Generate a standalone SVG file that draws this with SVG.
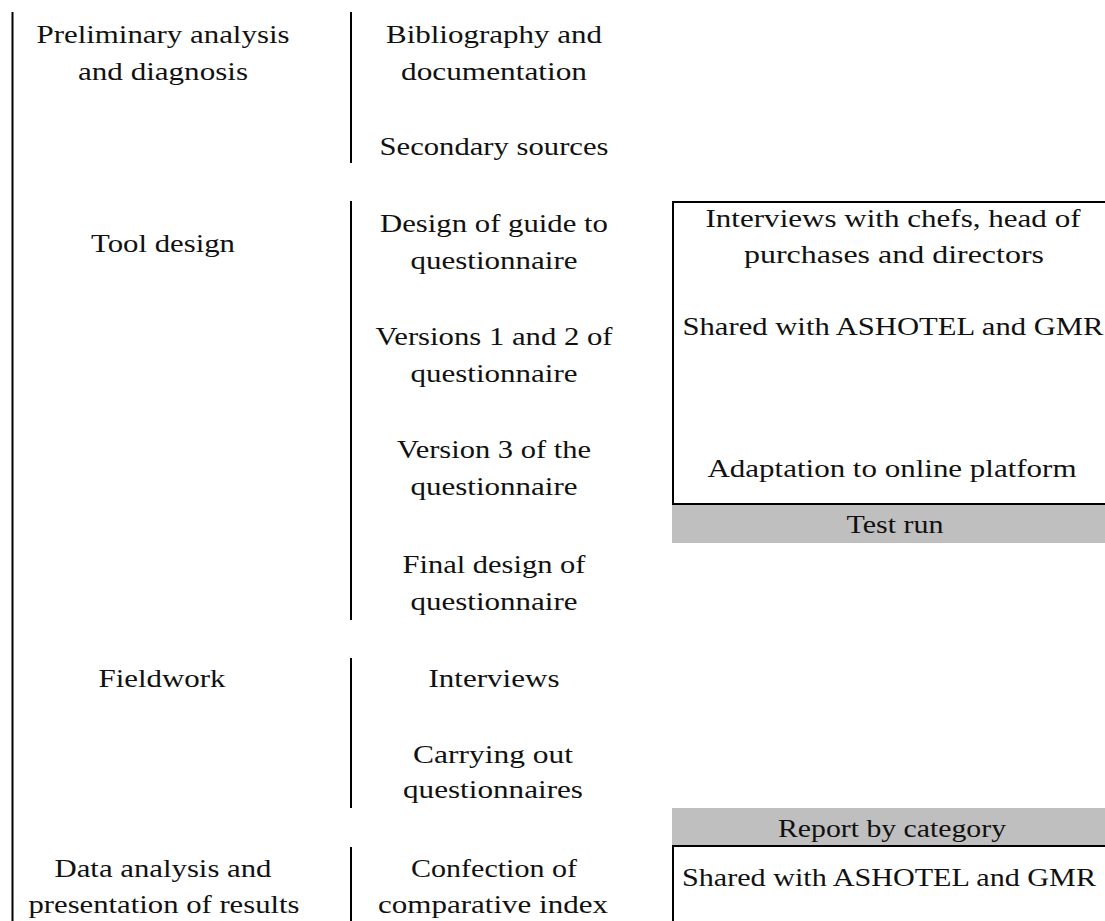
<svg xmlns="http://www.w3.org/2000/svg" width="1105" height="921" viewBox="0 0 1105 921">
<style>
text{font-family:"Liberation Serif","Times New Roman",serif;font-size:26px;fill:#111;text-anchor:middle}
.sep{stroke:#000;stroke-width:2;fill:none}
.box{fill:#fff;stroke:#000;stroke-width:2}
.bar{fill:#BFBFBF;stroke:none}
</style>
<rect x="0" y="0" width="1105" height="921" fill="#fff"/>
<g id="connectors">
<line class="sep" x1="12.5" y1="12" x2="12.5" y2="921"/>
<line class="sep" x1="351" y1="12" x2="351" y2="163"/>
<line class="sep" x1="351" y1="201" x2="351" y2="620"/>
<line class="sep" x1="351" y1="658" x2="351" y2="808"/>
<line class="sep" x1="351" y1="847" x2="351" y2="921"/>
</g>
<g id="phase-preliminary">
<text x="163" y="43" textLength="253" lengthAdjust="spacingAndGlyphs">Preliminary analysis</text>
<text x="163" y="80" textLength="170" lengthAdjust="spacingAndGlyphs">and diagnosis</text>
</g>
<g id="phase-tool">
<text x="163" y="252" textLength="144" lengthAdjust="spacingAndGlyphs">Tool design</text>
</g>
<g id="phase-fieldwork">
<text x="162" y="687" textLength="127" lengthAdjust="spacingAndGlyphs">Fieldwork</text>
</g>
<g id="phase-analysis">
<text x="163" y="877" textLength="217" lengthAdjust="spacingAndGlyphs">Data analysis and</text>
<text x="164" y="913" textLength="271" lengthAdjust="spacingAndGlyphs">presentation of results</text>
</g>
<g id="task-bibliography">
<text x="494" y="43" textLength="216" lengthAdjust="spacingAndGlyphs">Bibliography and</text>
<text x="494" y="80" textLength="186" lengthAdjust="spacingAndGlyphs">documentation</text>
</g>
<g id="task-secondary">
<text x="494" y="155" textLength="229" lengthAdjust="spacingAndGlyphs">Secondary sources</text>
</g>
<g id="task-design-guide">
<text x="494" y="232" textLength="228" lengthAdjust="spacingAndGlyphs">Design of guide to</text>
<text x="494" y="269" textLength="167" lengthAdjust="spacingAndGlyphs">questionnaire</text>
</g>
<g id="task-versions12">
<text x="494" y="345" textLength="237" lengthAdjust="spacingAndGlyphs">Versions 1 and 2 of</text>
<text x="494" y="382" textLength="167" lengthAdjust="spacingAndGlyphs">questionnaire</text>
</g>
<g id="task-version3">
<text x="494" y="458" textLength="194" lengthAdjust="spacingAndGlyphs">Version 3 of the</text>
<text x="494" y="495" textLength="167" lengthAdjust="spacingAndGlyphs">questionnaire</text>
</g>
<g id="task-final">
<text x="494" y="573" textLength="183" lengthAdjust="spacingAndGlyphs">Final design of</text>
<text x="494" y="610" textLength="167" lengthAdjust="spacingAndGlyphs">questionnaire</text>
</g>
<g id="task-interviews">
<text x="494" y="687" textLength="131" lengthAdjust="spacingAndGlyphs">Interviews</text>
</g>
<g id="task-carrying">
<text x="493" y="763" textLength="160" lengthAdjust="spacingAndGlyphs">Carrying out</text>
<text x="493" y="798" textLength="180" lengthAdjust="spacingAndGlyphs">questionnaires</text>
</g>
<g id="task-confection">
<text x="494" y="877" textLength="166" lengthAdjust="spacingAndGlyphs">Confection of</text>
<text x="493" y="913" textLength="230" lengthAdjust="spacingAndGlyphs">comparative index</text>
</g>
<g id="box-tool">
<rect class="box" x="673" y="202" width="500" height="302"/>
<text x="893" y="227" textLength="375" lengthAdjust="spacingAndGlyphs">Interviews with chefs, head of</text>
<text x="894" y="263" textLength="300" lengthAdjust="spacingAndGlyphs">purchases and directors</text>
<text x="893" y="335" textLength="421" lengthAdjust="spacingAndGlyphs">Shared with ASHOTEL and GMR</text>
<text x="892" y="477" textLength="369" lengthAdjust="spacingAndGlyphs">Adaptation to online platform</text>
</g>
<g id="bar-test-run">
<rect class="bar" x="672" y="505" width="440" height="38"/>
<text x="895" y="533" textLength="97" lengthAdjust="spacingAndGlyphs">Test run</text>
</g>
<g id="bar-report">
<rect class="bar" x="672" y="808" width="440" height="37"/>
<text x="892" y="837" textLength="228" lengthAdjust="spacingAndGlyphs">Report by category</text>
</g>
<g id="box-analysis">
<rect class="box" x="673" y="846" width="500" height="100"/>
<text x="889" y="886" textLength="414" lengthAdjust="spacingAndGlyphs">Shared with ASHOTEL and GMR</text>
</g>
</svg>
